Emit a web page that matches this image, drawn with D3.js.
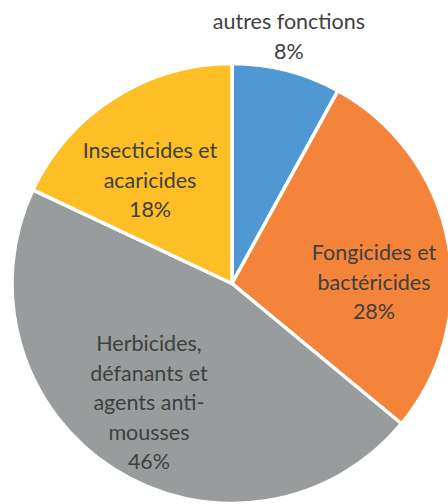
<!DOCTYPE html>
<html><head><meta charset="utf-8">
<script src="https://cdn.jsdelivr.net/npm/d3@7"></script>
<style>html,body{margin:0;padding:0;background:#fff;overflow:hidden}</style>
</head><body>
<svg id="chart" width="448" height="504"></svg>
<script>
const categories = ["autres fonctions", "Fongicides et bactéricides", "Herbicides, défanants et agents anti-mousses", "Insecticides et acaricides"];
const values = [8, 28, 46, 18];
const labelLines = [
  ["autres fonctions", "8%"],
  ["Fongicides et", "bactéricides", "28%"],
  ["Herbicides,", "défanants et", "agents anti-", "mousses", "46%"],
  ["Insecticides et", "acaricides", "18%"]
];
const colors = ["#5098D3", "#F3843A", "#999C9D", "#FDBE26"];

// layout (label placement: angle in degrees from top, distance from centre)
const labelPlace = [[13.0, 253], [89.6, 142], [214.8, 145.5], [321.5, 131.7]];
const W = 448, H = 504, cx = 232, cy = 283.5, R = 220;
const fontSize = 21.5, lineH = 29.5;

const svg = d3.select("#chart");
const g = svg.append("g").attr("transform", `translate(${cx},${cy})`);
const pie = d3.pie().sort(null).value(d => d)(values);
const arc = d3.arc().innerRadius(0).outerRadius(R);

g.selectAll("path.slice").data(pie).join("path")
  .attr("class", "slice")
  .attr("d", arc)
  .attr("fill", (d, i) => colors[i])
  .attr("stroke", "#fff")
  .attr("stroke-width", 3.5)
  .attr("stroke-linejoin", "round");

const lab = g.selectAll("text.lbl").data(pie).join("text")
  .attr("class", "lbl")
  .attr("font-family", "Lato, 'Open Sans', sans-serif")
  .attr("font-size", fontSize)
  .attr("fill", "#404040")
  .attr("text-anchor", "middle")
  .each(function(d, i) {
    const a = labelPlace[i][0] * Math.PI / 180, dist = labelPlace[i][1];
    const x = Math.sin(a) * dist, y = -Math.cos(a) * dist;
    const lines = labelLines[i];
    const y0 = y - (lines.length - 1) / 2 * lineH + 0.33 * fontSize;
    d3.select(this).selectAll("tspan").data(lines).join("tspan")
      .attr("x", x).attr("y", (t, j) => y0 + j * lineH).text(t => t);
  });
</script>
</body></html>
